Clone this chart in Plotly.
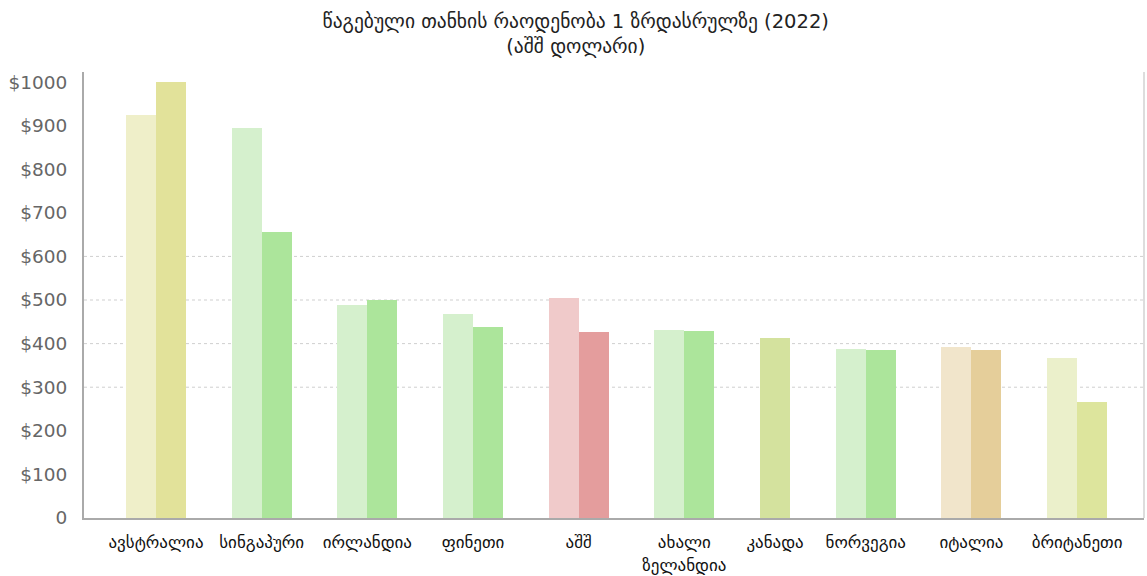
import plotly.graph_objects as go

# Spending per adult (USD), two bars per country; Canada has only one value
countries = ["ავსტრალია", "სინგაპური", "ირლანდია", "ფინეთი", "აშშ",
             "ახალი<br>ზელანდია", "კანადა", "ნორვეგია", "იტალია", "ბრიტანეთი"]
first_values = [925, 894, 488, 469, 504, 431, None, 388, 392, 368]
second_values = [1000, 655, 500, 437, 427, 428, 413, 385, 385, 266]

first_colors = ["#EFEFC9", "#D5F0CD", "#D5F0CD", "#D5F0CD", "#F0CACA",
                "#D5F0CD", None, "#D5F0CD", "#F1E5CB", "#EBF0CB"]
second_colors = ["#E2E29A", "#ACE59B", "#ACE59B", "#ACE59B", "#E49D9D",
                 "#ACE59B", "#D4E29E", "#ACE59B", "#E5CE9A", "#DDE59D"]

y_ticks = [0, 100, 200, 300, 400, 500, 600, 700, 800, 900, 1000]
y_tick_labels = ["0"] + [f"${v}" for v in y_ticks[1:]]
grid_levels = [300, 400, 500, 600]

GEO_FONT = "DejaVu Sans"
BAR_W = 1.0
GROUP_GAP = 1.523

# lay the bars out side by side, groups packed by how many bars they hold
bar_x, bar_y, bar_c = [], [], []
group_centers = []
cursor = 0.0
for i, name in enumerate(countries):
    pairs = [(v, c) for v, c in ((first_values[i], first_colors[i]),
                                  (second_values[i], second_colors[i])) if v is not None]
    for j, (v, c) in enumerate(pairs):
        bar_x.append(cursor + BAR_W * (j + 0.5))
        bar_y.append(v)
        bar_c.append(c)
    group_centers.append(cursor + BAR_W * len(pairs) / 2)
    cursor += BAR_W * len(pairs) + GROUP_GAP
x_end = cursor - GROUP_GAP

fig = go.Figure(go.Bar(
    x=bar_x, y=bar_y, width=BAR_W,
    marker=dict(color=bar_c, line=dict(width=0)),
    hoverinfo="y",
))

shapes = [
    dict(type="line", xref="paper", yref="y", x0=0, x1=1, y0=g, y1=g,
         line=dict(color="#cfcfcf", width=1, dash="dot"), layer="below")
    for g in grid_levels
]
shapes.append(dict(type="line", xref="paper", yref="paper", x0=1, x1=1, y0=0, y1=1,
                   line=dict(color="#dddddd", width=2)))
fig.update_layout(shapes=shapes)

fig.update_layout(
    width=1147, height=576,
    margin=dict(l=84, r=3, t=72, b=58, autoexpand=False),
    paper_bgcolor="white", plot_bgcolor="white",
    showlegend=False,
    bargap=0,
    title=dict(
        text="წაგებული თანხის რაოდენობა 1 ზრდასრულზე (2022)<br>(აშშ დოლარი)",
        xref="container", x=0.502, xanchor="center",
        yref="container", y=0.952, yanchor="top",
        font=dict(family=GEO_FONT, size=19.5, color="#222222"),
    ),
    xaxis=dict(
        range=[-1.4, x_end + 1.23],
        tickvals=group_centers, ticktext=countries,
        showgrid=False, zeroline=False,
        showline=True, linecolor="#aaaaaa", linewidth=2,
        ticks="", ticklabelstandoff=8,
        tickfont=dict(family=GEO_FONT, size=17, color="#111111"),
        automargin=False, fixedrange=True,
    ),
    yaxis=dict(
        range=[0, 1023],
        tickvals=y_ticks, ticktext=y_tick_labels,
        showgrid=False, zeroline=False,
        showline=True, linecolor="#aaaaaa", linewidth=2,
        ticks="", ticklabelstandoff=11,
        tickfont=dict(family="DejaVu Sans", size=18.5, color="#666666"),
        automargin=False, fixedrange=True,
    ),
)

fig.write_html("out.html")
